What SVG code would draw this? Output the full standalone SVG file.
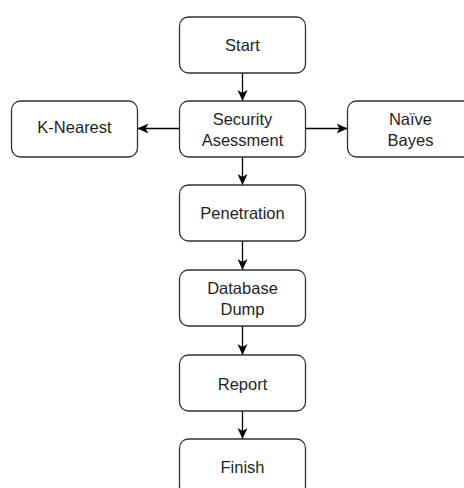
<svg xmlns="http://www.w3.org/2000/svg" width="464" height="488" viewBox="0 0 464 488">
  <style>
    .box { fill: #ffffff; stroke: #333333; stroke-width: 1.3; }
    .lbl { font-family: "Liberation Sans", Arial, sans-serif; font-size: 16.5px; fill: #1f1f1f; text-anchor: middle; dominant-baseline: central; }
    .edge { fill: none; stroke: #000000; stroke-width: 1.3; }
  </style>
  <defs>
    <marker id="arrow" markerWidth="12" markerHeight="11" refX="11" refY="5.5" orient="auto" markerUnits="userSpaceOnUse">
      <path d="M0,0.5 L11,5.5 L0,10.5 L3,5.5 Z" fill="#000000"/>
    </marker>
  </defs>
  <rect width="464" height="488" fill="#ffffff"/>

  <g id="connectors">
    <line class="edge" x1="242.5" y1="73" x2="242.5" y2="101" marker-end="url(#arrow)"/>
    <line class="edge" x1="179.5" y1="128.5" x2="137.5" y2="128.5" marker-end="url(#arrow)"/>
    <line class="edge" x1="305.5" y1="128.5" x2="347.5" y2="128.5" marker-end="url(#arrow)"/>
    <line class="edge" x1="242.5" y1="157" x2="242.5" y2="185" marker-end="url(#arrow)"/>
    <line class="edge" x1="242.5" y1="241" x2="242.5" y2="270" marker-end="url(#arrow)"/>
    <line class="edge" x1="242.5" y1="326" x2="242.5" y2="355" marker-end="url(#arrow)"/>
    <line class="edge" x1="242.5" y1="411" x2="242.5" y2="439" marker-end="url(#arrow)"/>
  </g>

  <g id="start">
    <rect class="box" x="179.5" y="17" width="126" height="56" rx="9"/>
    <text class="lbl" x="242.5" y="45">Start</text>
  </g>
  <g id="security">
    <rect class="box" x="179.5" y="101" width="126" height="56" rx="9"/>
    <text class="lbl" x="242.5" y="118.5">Security</text>
    <text class="lbl" x="242.5" y="139.5">Asessment</text>
  </g>
  <g id="knearest">
    <rect class="box" x="11.5" y="101" width="126" height="56" rx="9"/>
    <text class="lbl" x="74.5" y="127">K-Nearest</text>
  </g>
  <g id="naivebayes">
    <rect class="box" x="347.5" y="101" width="126" height="56" rx="9"/>
    <text class="lbl" x="410.5" y="118.5">Naïve</text>
    <text class="lbl" x="410.5" y="139.5">Bayes</text>
  </g>
  <g id="penetration">
    <rect class="box" x="179.5" y="185" width="126" height="56" rx="9"/>
    <text class="lbl" x="242.5" y="213">Penetration</text>
  </g>
  <g id="database">
    <rect class="box" x="179.5" y="270" width="126" height="56" rx="9"/>
    <text class="lbl" x="242.5" y="287.5">Database</text>
    <text class="lbl" x="242.5" y="308.5">Dump</text>
  </g>
  <g id="report">
    <rect class="box" x="179.5" y="355" width="126" height="56" rx="9"/>
    <text class="lbl" x="242.5" y="384">Report</text>
  </g>
  <g id="finish">
    <rect class="box" x="179.5" y="439" width="126" height="56" rx="9"/>
    <text class="lbl" x="242.5" y="467">Finish</text>
  </g>
</svg>
